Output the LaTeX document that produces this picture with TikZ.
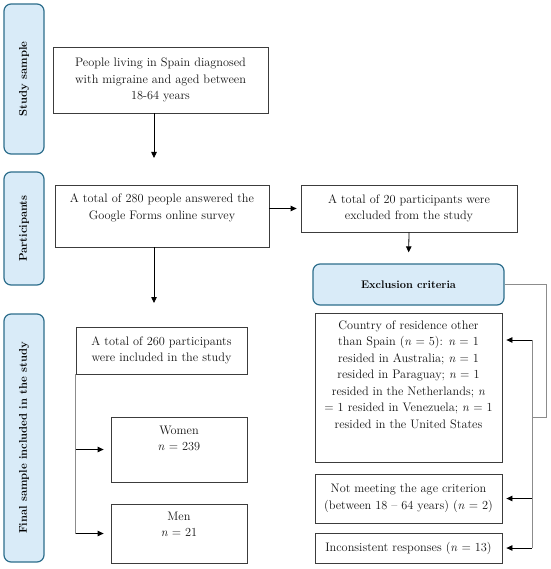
\documentclass[tikz,border=0pt]{standalone}
\usetikzlibrary{arrows.meta,calc}
\definecolor{tabfill}{RGB}{217,235,248}
\definecolor{tabdraw}{RGB}{45,110,140}
\definecolor{connc}{RGB}{140,140,140}
\definecolor{boxdraw}{RGB}{60,60,60}
\begin{document}
\begin{tikzpicture}[x=1pt,y=-1pt,
  tab/.style={draw=tabdraw, fill=tabfill, line width=1.2pt, rounded corners=7pt, inner sep=0pt,
    font=\fontsize{11.2}{13}\selectfont\bfseries, text=black},
  box/.style={draw=boxdraw, line width=0.8pt, inner sep=0pt, align=center,
    font=\fontsize{12.3}{16.5}\selectfont, text=black!92},
  txt/.style={inner sep=0pt, align=center, font=\fontsize{12.3}{16.5}\selectfont, text=black!92},
  arr/.style={draw=black, line width=0.8pt, -{Triangle[length=6pt,width=5.5pt]}},
  connl/.style={draw=connc, line width=0.8pt}]
\fill[white] (0,0) rectangle (550,569);
\useasboundingbox (0,0) rectangle (550,569);
% tabs
\node[tab, rotate=90, minimum width=150, minimum height=40] (t1) at (24,79) {Study sample};
\node[tab, rotate=90, minimum width=113, minimum height=40] (t2) at (24,228.5) {Participants};
\node[tab, rotate=90, minimum width=248, minimum height=40] (t3) at (24,438) {Final sample included in the study};
% boxes
\node[box, minimum width=215, minimum height=66] (b1) at (160.5,80) {People living in Spain diagnosed\\with migraine and aged between\\18-64 years};
\node[box, minimum width=214, minimum height=62] (b2) at (162,216) {};
\node[txt, anchor=north] (b2t) at ($(b2.north)+(0,9)$) {A total of 280 people answered the\\Google Forms online survey};
\node[box, minimum width=216, minimum height=47] (ex) at (409,208.5) {A total of 20 participants were\\excluded from the study};
\node[tab, minimum width=191, minimum height=41, font=\fontsize{11}{13}\selectfont\bfseries] (cr) at (408.5,284.5) {Exclusion criteria};
\node[box, minimum width=171, minimum height=47] (b3) at (161.5,350.5) {A total of 260 participants\\were included in the study};
\node[box, minimum width=136, minimum height=65] (wo) at (179,449.5) {};
\node[txt, anchor=north] (wot) at ($(wo.north)+(0,9)$) {Women\\\textit{n} = 239};
\node[box, minimum width=136, minimum height=59] (me) at (179,533.5) {};
\node[txt, anchor=north] (met) at ($(me.north)+(0,8)$) {Men\\\textit{n} = 21};
\node[box, minimum width=187, minimum height=149] (co) at (408.5,387.5) {};
\node[txt, anchor=north] (cot) at ($(co.north)+(0,8)$) {Country of residence other\\than Spain (\textit{n} = 5): \textit{n} = 1\\resided in Australia; \textit{n} = 1\\resided in Paraguay; \textit{n} = 1\\resided in the Netherlands; \textit{n}\\= 1 resided in Venezuela; \textit{n} = 1\\resided in the United States};
\node[box, minimum width=187, minimum height=49] (ag) at (408.5,498.5) {Not meeting the age criterion\\(between 18 -- 64 years) (\textit{n} = 2)};
\node[box, minimum width=187, minimum height=30] (in) at (408.5,548) {Inconsistent responses (\textit{n} = 13)};
% connectors
\coordinate (a1) at (154,158);
\coordinate (a2) at (154,303);
\draw[arr] (b1.south -| a1) -- (a1);
\draw[arr] (b2.south -| a2) -- (a2);
\draw[arr, shorten >=4pt] (b2.east |- ex.west) -- (ex.west);
\draw[arr, shorten >=11pt] (ex.south) -- (cr.north);
\draw[connl] (b3.south west) -- (b3.south west |- me.west);
\draw[arr, shorten >=7pt] (b3.south west |- wo.west) -- (wo.west);
\draw[arr, shorten >=7pt] (b3.south west |- me.west) -- (me.west);
\coordinate (r1) at (546,417);
\coordinate (r2) at (532,417);
\coordinate (v1) at (532,340);
\draw[connl] (cr.east) -| (r1) -- (r2);
\draw[connl] (v1) -- (in.east -| v1);
\draw[arr, shorten >=4pt] (v1) -- (v1 -| co.east);
\draw[arr, shorten >=4pt] (ag.east -| v1) -- (ag.east);
\draw[arr, shorten >=4pt] (in.east -| v1) -- (in.east);
\end{tikzpicture}
\end{document}
